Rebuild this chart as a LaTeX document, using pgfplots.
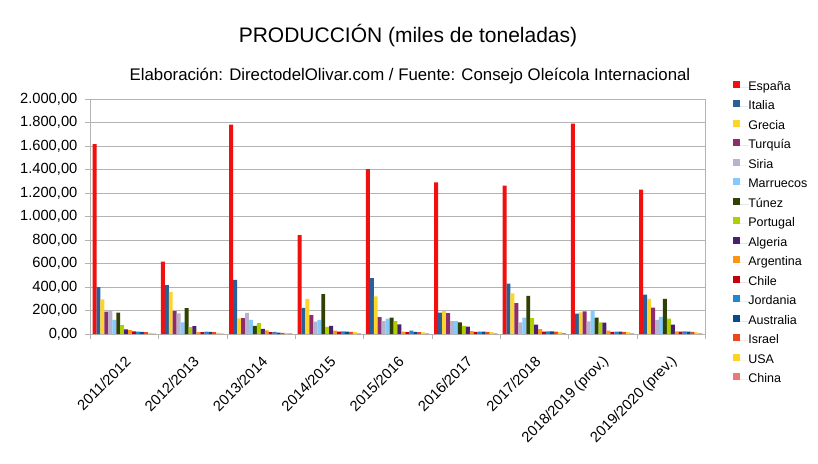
\documentclass[border=0pt]{standalone}
\usepackage{pgfplots}
\usepackage{pgfplotstable}
\pgfplotsset{compat=1.18}
\usepackage{fontspec}
\setmainfont{Liberation Sans}

\definecolor{cEsp}{HTML}{F01010}
\definecolor{cIta}{HTML}{2A6099}
\definecolor{cGre}{HTML}{FFD428}
\definecolor{cTur}{HTML}{8E2D6E}
\definecolor{cSir}{HTML}{B7B3CA}
\definecolor{cMar}{HTML}{83CAFF}
\definecolor{cTun}{HTML}{314004}
\definecolor{cPor}{HTML}{AECF00}
\definecolor{cAlg}{HTML}{4B1F6F}
\definecolor{cArg}{HTML}{FF950E}
\definecolor{cChi}{HTML}{C5000B}
\definecolor{cJor}{HTML}{1E88D8}
\definecolor{cAus}{HTML}{0A4A8A}
\definecolor{cIsr}{HTML}{F0441C}
\definecolor{cUsa}{HTML}{FFD320}
\definecolor{cChn}{HTML}{EE7777}
\definecolor{gridgray}{HTML}{B3B3B3}

\pgfplotstableread{
x esp ita gre tur sir mar tun por alg arg chi jor aus isr usa chn
0 1615 399 295 191 198 120 182 76 40 32 22 21 18 15 10 4
1 616 415 358 195 175 100 220 59 66 17 15 21 18 15 10 4
2 1782 461 132 135 180 120 70 92 44 30 15 18 12 10 7 5
3 842 222 300 160 105 120 340 61 70 28 20 23 21 18 15 5
4 1403 475 320 143 110 130 140 109 82 20 15 29 18 15 14 5
5 1291 182 195 178 110 110 100 69 63 24 18 20 21 18 16 5
6 1262 429 346 263 100 140 325 135 80 42 21 22 22 20 15 7
7 1791 174 185 193 107 200 140 100 97 28 18 20 20 18 15 5
8 1229 336 300 225 120 145 300 130 80 22 21 22 20 18 14 5
}\datatable

\begin{document}
\begin{tikzpicture}
\path[use as bounding box] (-90pt,-129pt) rectangle (728pt,334pt);
\begin{axis}[
  scale only axis,
  width=615pt, height=235pt,
  ybar=0pt, bar width=3.95pt,
  xmin=-0.5, xmax=8.5,
  ymin=0, ymax=2000,
  ytick={0,200,...,2000},
  xtick={0,...,8},
  xticklabels={2011/2012,2012/2013,2013/2014,2014/2015,2015/2016,2016/2017,2017/2018,2018/2019 (prov.),2019/2020 (prev.)},
  minor xtick={-0.5,0.5,...,8.5},
  major x tick style={draw=none},
  minor x tick style={gridgray},
  minor tick length=5pt,
  major tick length=5pt,
  y tick style={gridgray},
  tick align=outside,
  tick pos=left,
  ymajorgrids,
  major grid style={gridgray, line width=0.6pt},
  axis line style={gridgray},
  every axis/.append style={line width=0.6pt},
  tick label style={font=\fontsize{14.7}{16}\selectfont},
  /pgf/number format/assume math mode=true,
  yticklabel={\pgfmathprintnumber[fixed, fixed zerofill, precision=2, use comma, 1000 sep={.}]{\tick}},
  scaled y ticks=false,
  xticklabel style={yshift=-20pt, xshift=4pt, rotate=45, anchor=east, inner sep=0pt},
  yticklabel style={xshift=-4pt},
  legend style={draw=none, fill=none, at={(1.0407,1.087)}, anchor=north west,
    font=\fontsize{12.5}{14}\selectfont, row sep=7pt,
    nodes={inner sep=0pt, text height=9pt, text depth=3pt}},
  legend cell align=left,
  legend image code/.code={\fill[#1] (0pt,-0.5pt) rectangle (7pt,6.5pt); \path (0pt,0pt) -- (15pt,0pt);},
  every axis plot/.append style={draw=none},
]
\addplot[fill=cEsp] table[x=x,y=esp]{\datatable};
\addplot[fill=cIta] table[x=x,y=ita]{\datatable};
\addplot[fill=cGre] table[x=x,y=gre]{\datatable};
\addplot[fill=cTur] table[x=x,y=tur]{\datatable};
\addplot[fill=cSir] table[x=x,y=sir]{\datatable};
\addplot[fill=cMar] table[x=x,y=mar]{\datatable};
\addplot[fill=cTun] table[x=x,y=tun]{\datatable};
\addplot[fill=cPor] table[x=x,y=por]{\datatable};
\addplot[fill=cAlg] table[x=x,y=alg]{\datatable};
\addplot[fill=cArg] table[x=x,y=arg]{\datatable};
\addplot[fill=cChi] table[x=x,y=chi]{\datatable};
\addplot[fill=cJor] table[x=x,y=jor]{\datatable};
\addplot[fill=cAus] table[x=x,y=aus]{\datatable};
\addplot[fill=cIsr] table[x=x,y=isr]{\datatable};
\addplot[fill=cUsa] table[x=x,y=usa]{\datatable};
\addplot[fill=cChn] table[x=x,y=chn]{\datatable};
\legend{España,Italia,Grecia,Turquía,Siria,Marruecos,Túnez,Portugal,Algeria,Argentina,Chile,Jordania,Australia,Israel,USA,China}
\end{axis}
\node[font=\fontsize{21}{24}\selectfont] at (318pt,298pt) {PRODUCCIÓN (miles de toneladas)};
\node[font=\fontsize{16.8}{19}\selectfont] at (320pt,258pt) {Elaboración: DirectodelOlivar.com / Fuente: Consejo Oleícola Internacional};
\end{tikzpicture}
\end{document}
